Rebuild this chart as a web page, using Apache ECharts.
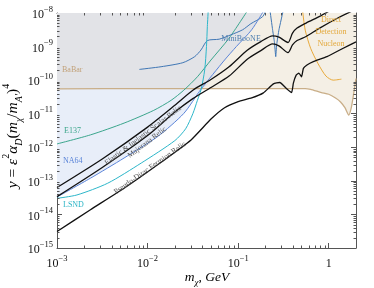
<!DOCTYPE html>
<html><head><meta charset="utf-8">
<script src="https://cdn.jsdelivr.net/npm/echarts@6/dist/echarts.min.js"></script>
<style>html,body{margin:0;padding:0;background:#fff}#c{width:374px;height:288px}</style>
</head><body><div id="c"></div>
<script>
// ---- data ----
const scalarX = [1e-3, 3.16e-3, 1e-2, 2e-2, 3.16e-2, 5.01e-2, 7.94e-2, 0.126, 0.178, 0.24, 0.282, 0.355, 0.398, 0.447, 0.562, 0.794, 1.0];
const scalarY = [6.31e-14, 4.47e-13, 3.98e-12, 1.78e-11, 5.01e-11, 1.05e-10, 2.51e-10, 7.8e-10, 1.41e-9, 2.09e-9, 1.91e-9, 1.32e-9, 2.51e-9, 3.55e-9, 5.01e-9, 7.94e-9, 1.12e-8];
const majoranaX = [1e-3, 3.16e-3, 1e-2, 2e-2, 3.16e-2, 5.01e-2, 7.94e-2, 0.126, 0.178, 0.24, 0.282, 0.355, 0.398, 0.447, 0.562, 0.794, 1.26, 1.78];
const majoranaY = [3.39e-14, 2.51e-13, 2.24e-12, 1.12e-11, 2.82e-11, 6.03e-11, 1.32e-10, 4.2e-10, 7.59e-10, 1.2e-9, 1.05e-9, 6.61e-10, 1.12e-9, 1.51e-9, 2.0e-9, 3.55e-9, 7.08e-9, 1.12e-8];
const pseudoX = [1e-3, 2.34e-3, 5.5e-3, 1.29e-2, 3.02e-2, 5.01e-2, 7.08e-2, 0.1, 0.141, 0.19, 0.245, 0.288, 0.339, 0.389, 0.407, 0.437, 0.468, 0.501, 0.525, 0.575, 0.676, 0.955, 1.445, 2.0];
const pseudoY = [3.09e-15, 1.38e-14, 6.03e-14, 3.02e-13, 1.66e-12, 6.92e-12, 1.51e-11, 2.29e-11, 2.95e-11, 4.17e-11, 7.76e-11, 8.51e-11, 5.75e-11, 4.27e-11, 8.13e-11, 1.41e-10, 1.62e-10, 1.26e-10, 2.24e-10, 2.82e-10, 3.55e-10, 5.01e-10, 8.91e-10, 1.38e-9];
const babarX = [1e-3, 1e-2, 0.1, 0.55, 0.63, 0.83, 1.0, 1.2, 1.35, 1.51, 1.66, 1.78, 1.91, 2.0];
const babarY = [5.5e-11, 5.6e-11, 5.6e-11, 5.6e-11, 5.3e-11, 4.27e-11, 3.8e-11, 2.88e-11, 2.24e-11, 1.51e-11, 9.1e-12, 1.58e-11, 5.0e-11, 1.12e-10];
const na64X = [1e-3, 2.34e-3, 5.5e-3, 1.29e-2, 2.51e-2, 3.89e-2, 7.08e-2, 9.55e-2, 0.141, 0.195];
const na64Y = [3.3e-14, 1.2e-13, 4.79e-13, 2.09e-12, 1.02e-11, 5.37e-11, 3.98e-10, 1e-9, 3.16e-9, 1.26e-8];
const lsndX = [1e-3, 1.66e-3, 3.63e-3, 8.51e-3, 2.0e-2, 2.63e-2, 3.16e-2, 3.55e-2, 3.89e-2, 4.27e-2, 4.47e-2, 4.57e-2, 4.68e-2];
const lsndY = [3.02e-14, 3.8e-14, 8.51e-14, 3.39e-13, 1.58e-12, 3.55e-12, 1.0e-11, 2.51e-11, 5.13e-11, 2.0e-10, 1e-9, 3.98e-9, 1.26e-8];
const e137X = [1e-3, 2.34e-3, 5.5e-3, 1.17e-2, 1.82e-2, 2.51e-2, 3.55e-2, 5.01e-2, 7.94e-2, 0.129];
const e137Y = [1.26e-12, 2.34e-12, 5.25e-12, 1.26e-11, 2.51e-11, 5.01e-11, 1.26e-10, 3.98e-10, 1.78e-9, 1.26e-8];
const miniX = [8.13e-3, 1.41e-2, 2.45e-2, 3.31e-2, 3.89e-2, 4.57e-2, 6.17e-2, 8.32e-2, 0.112, 0.138, 0.186, 0.204];
const miniY = [2.09e-10, 2.51e-10, 3.31e-10, 5.01e-10, 7.94e-10, 1.51e-9, 1.66e-9, 2.24e-9, 3.16e-9, 4.79e-9, 7.76e-9, 1.26e-8];
const miniSpikeX = [0.224, 0.24, 0.251, 0.26, 0.266, 0.282, 0.316];
const miniSpikeY = [1.26e-8, 3.16e-9, 1.41e-9, 5.01e-10, 1.12e-9, 3.16e-9, 1.26e-8];
const ddX = [0.513, 0.55, 0.631, 0.759, 0.933, 1.12, 1.38];
const ddY = [1.26e-8, 3.09e-9, 8.91e-10, 3.16e-10, 1.32e-10, 1.0e-10, 1.07e-10];
// gray (BaBar) region boundary: BaBar level up to NA64 crossing, then NA64
const grayX = [1e-3, 1e-2, 3.89e-2, 7.08e-2, 9.55e-2, 0.141, 0.195];
const grayY = [5.5e-11, 5.6e-11, 5.5e-11, 3.98e-10, 1e-9, 3.16e-9, 1.26e-8];
// light-blue region lower boundary (NA64 up to BaBar crossing)
const blueX = [1e-3, 2.34e-3, 5.5e-3, 1.29e-2, 2.51e-2, 3.89e-2];
const blueY = [3.3e-14, 1.2e-13, 4.79e-13, 2.09e-12, 1.02e-11, 5.37e-11];
const xMin = 1e-3, xMax = 2, yMin = 1e-15, yMax = 1e-8;
const xDecades = [-3, -2, -1, 0];
const yDecades = [-15, -14, -13, -12, -11, -10, -9];

const zip = (a, b) => a.map((v, i) => [v, b[i]]);
const minorX = []; xDecades.forEach(d => { for (let k = 2; k <= 9; k++) { const v = k * Math.pow(10, d); if (v < xMax) minorX.push([v, yMin]); } });
const minorY = []; yDecades.forEach(d => { for (let k = 2; k <= 9; k++) minorY.push([xMin, k * Math.pow(10, d)]); });

const SERIF = '"Liberation Serif","DejaVu Serif",serif';
const AX = '#555';
function fmt(v) {
  const l = Math.log10(v), e = Math.round(l);
  if (Math.abs(l - e) > 0.01) return '';
  if (e === 0) return '{b|1}';
  return '{b|10}{s|' + (e < 0 ? '\u2212' : '') + Math.abs(e) + '}';
}
const tickRich = {
  b: { fontFamily: SERIF, fontSize: 12, color: '#111', lineHeight: 16, verticalAlign: 'bottom' },
  s: { fontFamily: SERIF, fontSize: 8.5, color: '#111', lineHeight: 16, verticalAlign: 'top' }
};
const axisBase = () => ({
  type: 'log', logBase: 10,
  axisLine: { show: true, lineStyle: { color: AX, width: 1 } },
  axisTick: { show: true, inside: true, length: 5, lineStyle: { color: AX, width: 1 } },
  splitLine: { show: false }, minorTick: { show: false }
});

const chart = echarts.init(document.getElementById('c'), null, { renderer: 'canvas' });
function lineS(name, xs, ys, color, width, extra) {
  return Object.assign({
    name, type: 'line', data: zip(xs, ys), xAxisIndex: 0, yAxisIndex: 0,
    showSymbol: false, symbol: 'none', smooth: 0.25, clip: true,
    lineStyle: { color, width }, z: 5, silent: true
  }, extra || {});
}
function areaS(name, xs, ys, color, z) {
  return {
    name, type: 'line', data: zip(xs, ys), xAxisIndex: 0, yAxisIndex: 0,
    showSymbol: false, symbol: 'none', smooth: 0.2, clip: true,
    lineStyle: { width: 0, opacity: 0 }, areaStyle: { color, opacity: 1, origin: 'end' }, z, silent: true
  };
}
function tickSeries(data, vertical) {
  return {
    type: 'custom', xAxisIndex: 0, yAxisIndex: 0, data, clip: false, z: 10, silent: true,
    renderItem: (params, api) => {
      const cs = params.coordSys;
      const p = api.coord([api.value(0), api.value(1)]);
      const L = 2.5, st = { stroke: AX, lineWidth: 1 };
      if (vertical) {
        const x = Math.round(p[0]) + 0.5;
        return { type: 'group', children: [
          { type: 'line', shape: { x1: x, y1: cs.y + cs.height, x2: x, y2: cs.y + cs.height - L }, style: st },
          { type: 'line', shape: { x1: x, y1: cs.y, x2: x, y2: cs.y + L }, style: st }
        ]};
      } else {
        const y = Math.round(p[1]) + 0.5;
        return { type: 'group', children: [
          { type: 'line', shape: { x1: cs.x, y1: y, x2: cs.x + L, y2: y }, style: st },
          { type: 'line', shape: { x1: cs.x + cs.width, y1: y, x2: cs.x + cs.width - L, y2: y }, style: st }
        ]};
      }
    }
  };
}
const lab = (text, x, y, color, extra) => ({
  type: 'text', x, y, z: 20, silent: true,
  style: Object.assign({ text, fill: color, font: '8px ' + SERIF, align: 'left', verticalAlign: 'middle' }, extra || {})
});
const relicLab = (text, x, y, deg) => ({
  type: 'text', x, y, rotation: deg * Math.PI / 180, z: 20, silent: true,
  style: { text, fill: '#555', font: '7.5px ' + SERIF, align: 'center', verticalAlign: 'middle' }
});
const mkRich = (big, small) => ({
  i: { fontFamily: SERIF, fontStyle: 'italic', fontSize: big, color: '#111', lineHeight: big + 7, verticalAlign: 'middle' },
  r: { fontFamily: SERIF, fontSize: big, color: '#111', lineHeight: big + 7, verticalAlign: 'middle' },
  sup: { fontFamily: SERIF, fontSize: small, color: '#111', lineHeight: big + 7, verticalAlign: 'top' },
  sub: { fontFamily: SERIF, fontStyle: 'italic', fontSize: small, color: '#111', lineHeight: big + 7, verticalAlign: 'bottom' }
});

chart.setOption({
  animation: false,
  backgroundColor: '#fff',
  grid: { left: 57, right: 18, top: 13, bottom: 40, containLabel: false },
  xAxis: [
    Object.assign(axisBase(), { min: xMin, max: xMax, position: 'bottom', splitNumber: 4,
      axisLabel: { formatter: fmt, rich: tickRich, margin: 6, showMaxLabel: false } }),
    Object.assign(axisBase(), { min: xMin, max: xMax, position: 'top', splitNumber: 4, axisLabel: { show: false } })
  ],
  yAxis: [
    Object.assign(axisBase(), { min: yMin, max: yMax, position: 'left', splitNumber: 7,
      axisLabel: { formatter: fmt, rich: tickRich, margin: 4 } }),
    Object.assign(axisBase(), { min: yMin, max: yMax, position: 'right', splitNumber: 7, axisLabel: { show: false } })
  ],
  series: [
    areaS('blueRegion', blueX, blueY, '#e8eef9', 1),
    areaS('ddRegion', babarX, babarY, '#f4efe5', 2),
    areaS('babarRegion', grayX, grayY, '#e2e3e7', 3),
    lineS('BaBar', babarX, babarY, '#c9ae88', 1.3, { smooth: 0.2 }),
    lineS('E137', e137X, e137Y, '#3aa58c', 1),
    lineS('MiniBooNE', miniX, miniY, '#3f76b4', 1),
    lineS('MiniBooNE2', miniSpikeX, miniSpikeY, '#3f76b4', 1, { smooth: 0.1 }),
    lineS('NA64', na64X, na64Y, '#5b84d8', 1),
    lineS('LSND', lsndX, lsndY, '#2cb6c9', 1),
    lineS('DD', ddX, ddY, '#e8a93a', 1),
    lineS('Scalar', scalarX, scalarY, '#111', 1.3),
    lineS('Majorana', majoranaX, majoranaY, '#111', 1.3),
    lineS('Pseudo', pseudoX, pseudoY, '#111', 1.3, { smooth: 0.15 }),
    tickSeries(minorX, true),
    tickSeries(minorY, false)
  ],
  graphic: [
    lab('BaBar', 62, 70, '#c2a27a'),
    lab('MiniBooNE', 241, 39, '#4f7fb0', { align: 'center' }),
    lab('E137', 64, 131, '#3aa58a'),
    lab('NA64', 63, 161, '#5a84d8'),
    lab('LSND', 63, 205, '#2ab4c6'),
    lab('Direct', 331, 20, '#e3a83a', { align: 'center' }),
    lab('Detection', 331, 32, '#e3a83a', { align: 'center' }),
    lab('Nucleon', 331, 44, '#e3a83a', { align: 'center' }),
    relicLab('Elastic & Inelastic Scalar Relic', 143, 135.5, 37),
    relicLab('Majorana Relic', 147, 142.5, 37),
    relicLab('Pseudo-Dirac Fermion Relic', 150, 168, 35),
    { type: 'text', x: 13, y: 136, rotation: Math.PI / 2, z: 20, silent: true,
      style: { text: '{i|y}{r| = }{i|\u03b5}{sup|2}{i|\u03b1}{sub|D}{r|(}{i|m}{sub|\u03c7}{r|/}{i|m}{sub|A\u2032}{r|)}{sup|4}',
        rich: mkRich(15.5, 10), align: 'center', verticalAlign: 'middle' } },
    { type: 'text', x: 207, y: 277, z: 20, silent: true,
      style: { text: '{i|m}{sub|\u03c7}{r|, }{i|GeV}', rich: mkRich(13.5, 9), align: 'center', verticalAlign: 'middle' } }
  ]
});
</script>
</body></html>
